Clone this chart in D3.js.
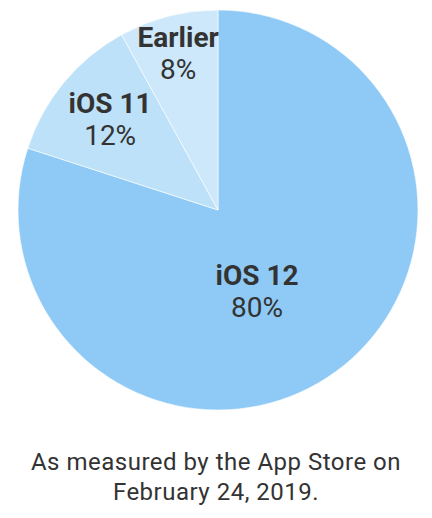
<!DOCTYPE html>
<html>
<head>
<meta charset="utf-8">
<script src="https://cdn.jsdelivr.net/npm/d3@7/dist/d3.min.js"></script>
<style>
  html, body { margin: 0; padding: 0; background: #fff; }
  svg { display: block; }
</style>
</head>
<body>
<div id="canvas"></div>
<script>
// data
var versions = ["iOS 12", "iOS 11", "Earlier"];
var shares = [80, 12, 8];
var sliceColors = ["#8ecaf5", "#bde1f8", "#cde8fa"];
var caption = ["As measured by the App Store on", "February 24, 2019."];

var w = 432, h = 518;
var cx = 218, cy = 210, r = 200;
var font = "Roboto, 'Open Sans', sans-serif";

var svg = d3.select("#canvas").append("svg").attr("width", w).attr("height", h);
var g = svg.append("g").attr("transform", "translate(" + cx + "," + cy + ")");

var rows = versions.map(function(v, i) { return { name: v, value: shares[i], color: sliceColors[i] }; });

var pie = d3.pie().sort(null).value(d => d.value);
var arc = d3.arc().innerRadius(0).outerRadius(r);
var arcs = pie(rows);

g.selectAll("path").data(arcs).enter().append("path")
    .attr("d", arc)
    .attr("fill", d => d.data.color)
    .attr("stroke", "#fff")
    .attr("stroke-width", 0.6);

// label placement: the small slices sit near the rim, the big one near the middle
function labelPoint(d, i) {
    var mid = (d.startAngle + d.endAngle) / 2;
    var rad = [0.46, 0.70, 0.80][i] * r;
    if (i == 0) mid += 0.19;
    return [rad * Math.sin(mid), -rad * Math.cos(mid)];
}

var labels = g.selectAll("g.label").data(arcs).enter().append("g")
    .attr("class", "label")
    .attr("transform", (d, i) => "translate(" + labelPoint(d, i) + ")");

labels.append("text")
    .attr("text-anchor", "middle")
    .attr("y", -8)
    .style("font-family", font)
    .style("font-weight", "bold")
    .style("font-size", "28px")
    .style("fill", "#333")
    .text(d => d.data.name);

labels.append("text")
    .attr("text-anchor", "middle")
    .attr("y", 24)
    .style("font-family", font)
    .style("font-size", "28px")
    .style("fill", "#333")
    .text(d => d.data.value + "%");

svg.append("g").selectAll("text").data(caption).enter().append("text")
    .attr("x", 216)
    .attr("y", (d, i) => 470 + i * 30)
    .attr("text-anchor", "middle")
    .style("font-family", font)
    .style("font-size", "24px")
    .style("letter-spacing", "0.5px")
    .style("fill", "#333")
    .text(d => d);
</script>
</body>
</html>
